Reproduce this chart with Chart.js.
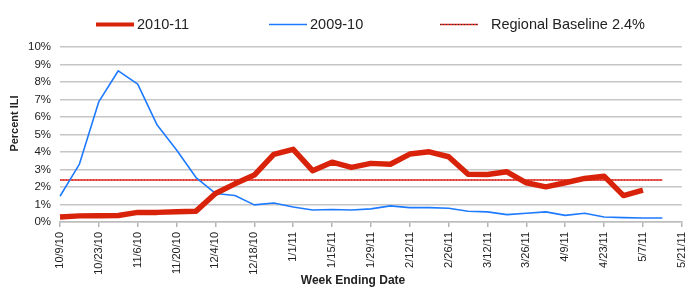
<!DOCTYPE html>
<html>
<head>
<meta charset="utf-8">
<script src="https://cdn.jsdelivr.net/npm/chart.js@4/dist/chart.umd.min.js"></script>
<style>
  html, body { margin: 0; padding: 0; background: #fff; }
  canvas { display: block; }
</style>
</head>
<body>
<canvas id="ili" width="700" height="300"></canvas>
<script>
// ── DATA ─────────────────────────────────────────────────────
var weeks = [
  '10/9/10', '10/16/10', '10/23/10', '10/30/10', '11/6/10', '11/13/10', '11/20/10', '11/27/10',
  '12/4/10', '12/11/10', '12/18/10', '12/25/10', '1/1/11', '1/8/11', '1/15/11', '1/22/11',
  '1/29/11', '2/5/11', '2/12/11', '2/19/11', '2/26/11', '3/5/11', '3/12/11', '3/19/11',
  '3/26/11', '4/2/11', '4/9/11', '4/16/11', '4/23/11', '4/30/11', '5/7/11', '5/14/11', '5/21/11'
];

var season1011 = [
  0.29, 0.35, 0.36, 0.37, 0.55, 0.55, 0.58, 0.62, 1.63, 2.18, 2.68, 3.86, 4.15, 2.93, 3.42, 3.12,
  3.35, 3.30, 3.88, 4.01, 3.73, 2.73, 2.72, 2.87, 2.24, 2.01, 2.24, 2.49, 2.62, 1.51, 1.82, null, null
];

var season0910 = [
  1.47, 3.31, 6.88, 8.64, 7.88, 5.54, 4.11, 2.54, 1.63, 1.51, 0.98, 1.09, 0.86, 0.69, 0.71, 0.69,
  0.75, 0.92, 0.82, 0.82, 0.79, 0.61, 0.58, 0.42, 0.50, 0.58, 0.38, 0.50, 0.29, 0.25, 0.23, 0.23, null
];

var baselineValue = 2.4;
var baseline = weeks.map(function (w, i) { return i < 32 ? baselineValue : null; });

var yTicks = [0, 1, 2, 3, 4, 5, 6, 7, 8, 9, 10];

// ── COLORS ───────────────────────────────────────────────────
var RED = '#d8230a';
var BLUE = '#1e7bff';
var BASE_RED = '#e3261b';

Chart.defaults.font.family = '"Liberation Sans", Arial, Helvetica, sans-serif';
Chart.defaults.color = '#222';

// ── LEGEND + AXIS TITLES (placed like the original) ──────────
var decor = {
  id: 'decor',
  afterDraw: function (chart, args, opts) {
    var ctx = chart.ctx;
    var sets = chart.data.datasets;
    ctx.save();
    opts.items.forEach(function (it) {
      var ds = sets[it.index];
      ctx.beginPath();
      ctx.lineWidth = it.lineWidth;
      ctx.strokeStyle = ds.borderColor;
      ctx.moveTo(it.x, opts.y);
      ctx.lineTo(it.x + opts.lineLen, opts.y);
      ctx.stroke();
      if (it.dots) {
        ctx.beginPath();
        ctx.lineWidth = 1;
        ctx.strokeStyle = '#333';
        ctx.setLineDash([1, 2]);
        ctx.moveTo(it.x, opts.y);
        ctx.lineTo(it.x + opts.lineLen, opts.y);
        ctx.stroke();
        ctx.setLineDash([]);
      }
      ctx.fillStyle = '#222';
      ctx.font = opts.font;
      ctx.textBaseline = 'middle';
      ctx.textAlign = 'left';
      ctx.fillText(ds.label, it.x + opts.lineLen + it.gap, opts.y + 0.5);
    });

    // axis titles
    ctx.fillStyle = '#222';
    ctx.textAlign = 'center';
    ctx.textBaseline = 'middle';
    ctx.font = 'bold 12px "Liberation Sans", Arial, sans-serif';
    ctx.fillText(opts.xTitle.text, opts.xTitle.x, opts.xTitle.y);
    ctx.translate(opts.yTitle.x, opts.yTitle.y);
    ctx.rotate(-Math.PI / 2);
    ctx.font = 'bold 11px "Liberation Sans", Arial, sans-serif';
    ctx.fillText(opts.yTitle.text, 0, 0);
    ctx.restore();
  }
};

new Chart(document.getElementById('ili'), {
  type: 'line',
  data: {
    labels: weeks,
    datasets: [
      { label: '2010-11', data: season1011, borderColor: RED, borderWidth: 5.5, order: 1 },
      { label: '2009-10', data: season0910, borderColor: BLUE, borderWidth: 1.6, order: 2 },
      { label: 'Regional Baseline 2.4%', data: baseline, borderColor: BASE_RED, borderWidth: 1.6, order: 3 },
      { label: 'dots', data: baseline, borderColor: '#333', borderWidth: 1, borderDash: [1, 2], order: 3 }
    ]
  },
  options: {
    responsive: false,
    animation: false,
    layout: { padding: { top: 47, right: 10, left: 0, bottom: 0 } },
    elements: {
      point: { radius: 0, hoverRadius: 0 },
      line: { tension: 0, borderJoinStyle: 'round', borderCapStyle: 'butt', fill: false }
    },
    plugins: {
      legend: { display: false },
      tooltip: { enabled: false },
      decor: {
        y: 24.5,
        lineLen: 38,
        font: '14.5px "Liberation Sans", Arial, sans-serif',
        items: [
          { index: 0, x: 96, lineWidth: 4, gap: 3 },
          { index: 1, x: 269, lineWidth: 1.6, gap: 3 },
          { index: 2, x: 440, lineWidth: 1.6, gap: 13, dots: true }
        ],
        xTitle: { text: 'Week Ending Date', x: 353, y: 281 },
        yTitle: { text: 'Percent ILI', x: 15, y: 123.5 }
      }
    },
    scales: {
      x: {
        type: 'category',
        offset: false,
        afterFit: function (s) { s.height = 78; },
        grid: {
          drawOnChartArea: false,
          drawTicks: true,
          tickLength: 5,
          lineWidth: 1.5,
          color: function (c) { return c.index % 2 ? 'rgba(0,0,0,0)' : '#b5b5b5'; }
        },
        border: { display: true, color: '#bdbdbd', width: 1.5 },
        ticks: {
          autoSkip: false,
          minRotation: 90,
          maxRotation: 90,
          padding: 5,
          font: { size: 11 },
          color: '#222',
          callback: function (v, i) { return i % 2 ? '' : weeks[i]; }
        }
      },
      y: {
        min: yTicks[0],
        max: yTicks[yTicks.length - 1],
        afterFit: function (s) { s.width = 60; },
        afterBuildTicks: function (s) { s.ticks = yTicks.map(function (v) { return { value: v }; }); },
        grid: { drawTicks: false, color: '#c6c6c6', lineWidth: 1.5 },
        border: { display: false },
        ticks: {
          padding: 9,
          font: { size: 11.5 },
          color: '#222',
          callback: function (v) { return v + '%'; }
        }
      }
    }
  },
  plugins: [decor]
});
</script>
</body>
</html>
